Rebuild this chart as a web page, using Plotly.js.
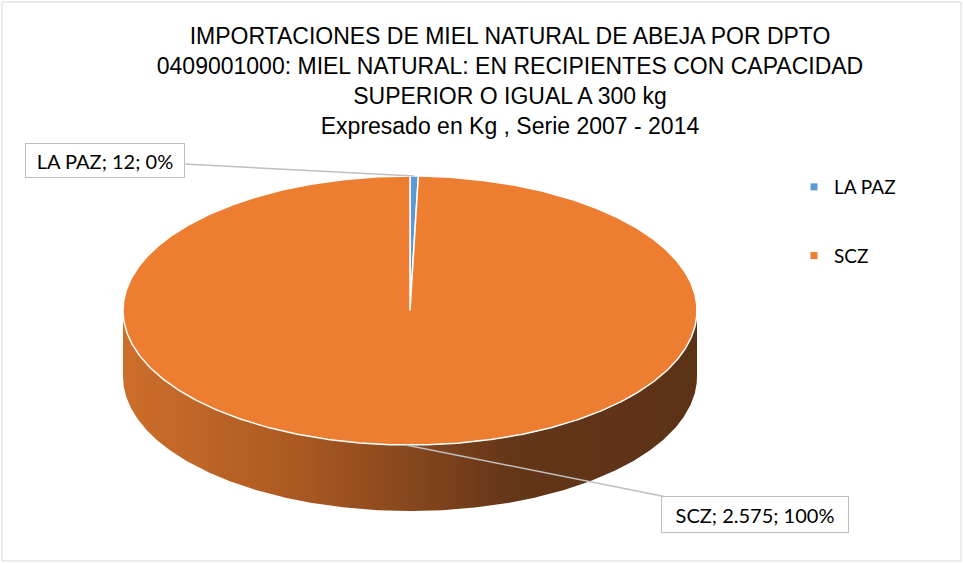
<!DOCTYPE html>
<html><head><meta charset="utf-8">
<script src="https://cdn.plot.ly/plotly-3.0.1.min.js"></script>
<style>html,body{margin:0;padding:0;background:#fff;}#chart{width:963px;height:563px;}</style>
</head><body><div id="chart"></div>
<script>
// ---- data ----
const labels = ['LA PAZ', 'SCZ'];
const values = [12, 2575];
const sliceColors = ['#5B9BD5', '#ED7D31'];

// ---- geometry / style (not data) ----
const cx = 410, cy = 310.5, rx = 287, ry = 134.5, depth = 66;
const labelPos = [[104.5, 160], [754.5, 514.5]];
const labelSize = [[152, 27], [180, 29]];
const sideScale = [[0, '#cd6e2b'], [0.3, '#ab5922'], [0.5, '#87471d'], [0.68, '#633618'], [1, '#5c3217']];
const labelFont = 'Lato, Carlito, Calibri, "Open Sans", sans-serif';

function pt(deg, dy) {
  const t = deg * Math.PI / 180;
  return [cx + rx * Math.sin(t), cy - ry * Math.cos(t) + (dy || 0)];
}
function arc(a0, a1, dy) {
  const out = [];
  const n = Math.max(2, Math.ceil(Math.abs(a1 - a0) / 0.5));
  for (let i = 0; i <= n; i++) out.push(pt(a0 + (a1 - a0) * i / n, dy));
  return out;
}
function fmt(v) { return String(v).replace(/\B(?=(\d{3})+(?!\d))/g, '.'); }

const total = values.reduce((a, b) => a + b, 0);
const starts = [], ends = [];
let acc = 0;
values.forEach(v => { starts.push(acc / total * 360); acc += v; ends.push(acc / total * 360); });

const traces = [];
// side walls (front half visible: 90..270 deg clockwise from top)
values.forEach((v, i) => {
  const s = Math.max(starts[i], 90), e = Math.min(ends[i], 270);
  if (s >= e) return;
  const pts = arc(s, e, 0).concat(arc(e, s, depth));
  pts.push(pts[0]);
  traces.push({
    type: 'scatter', mode: 'lines', x: pts.map(p => p[0]), y: pts.map(p => p[1]),
    fill: 'toself', fillgradient: { type: 'horizontal', colorscale: sideScale },
    line: { width: 0, color: 'rgba(0,0,0,0)' }, hoverinfo: 'skip', showlegend: false
  });
});
// top faces
values.forEach((v, i) => {
  const pts = [[cx, cy]].concat(arc(starts[i], ends[i], 0));
  pts.push([cx, cy]);
  traces.push({
    type: 'scatter', mode: 'lines', x: pts.map(p => p[0]), y: pts.map(p => p[1]),
    fill: 'toself', fillcolor: sliceColors[i],
    line: { width: 1.5, color: '#ffffff' }, hoverinfo: 'skip', showlegend: false
  });
});
// legend entries
labels.forEach((l, i) => {
  traces.push({
    type: 'scatter', mode: 'markers', x: [null], y: [null], name: l,
    legendgroup: 'g' + i, marker: { symbol: 'square', size: 7, color: sliceColors[i] }
  });
});

// data labels with leader lines
const annotations = values.map((v, i) => {
  const mid = (starts[i] + ends[i]) / 2;
  const p = pt(mid, 0);
  return {
    x: p[0], y: p[1], xref: 'x', yref: 'y',
    ax: labelPos[i][0], ay: labelPos[i][1], axref: 'x', ayref: 'y',
    text: labels[i] + '; ' + fmt(v) + '; ' + Math.round(v / total * 100) + '%',
    showarrow: true, arrowhead: 0, arrowwidth: 1.5, arrowcolor: '#bfbfbf', standoff: 0,
    bgcolor: '#ffffff', bordercolor: '#bfbfbf', borderwidth: 1, borderpad: 3,
    width: labelSize[i][0], height: labelSize[i][1],
    font: { family: labelFont, size: 20, color: '#000000' }
  };
});

const layout = {
  width: 963, height: 563,
  margin: { l: 0, r: 0, t: 0, b: 0 },
  paper_bgcolor: '#ffffff', plot_bgcolor: '#ffffff',
  xaxis: { range: [0, 963], visible: false, fixedrange: true },
  yaxis: { range: [563, 0], visible: false, fixedrange: true },
  title: {
    text: 'IMPORTACIONES DE MIEL NATURAL DE ABEJA POR DPTO<br>0409001000: MIEL NATURAL: EN RECIPIENTES CON CAPACIDAD<br>SUPERIOR O IGUAL A 300 kg<br>Expresado en Kg , Serie 2007 - 2014',
    x: 510 / 963, xanchor: 'center', xref: 'container',
    y: 1 - 44 / 563, yanchor: 'top', yref: 'container',
    font: { family: '"Liberation Sans", Arial, sans-serif', size: 23, color: '#000000' }
  },
  showlegend: true,
  legend: {
    x: 794 / 963, y: 1 - 168 / 563, xanchor: 'left', yanchor: 'top',
    bgcolor: 'rgba(0,0,0,0)', traceorder: 'grouped', tracegroupgap: 41,
    font: { family: labelFont, size: 19, color: '#000000' }
  },
  shapes: [{ type: 'rect', xref: 'x', yref: 'y', x0: 2, x1: 961, y0: 2, y1: 561, line: { color: '#d9d9d9', width: 1 }, layer: 'below' }],
  annotations: annotations
};

Plotly.newPlot('chart', traces, layout, { displayModeBar: false, staticPlot: true });
</script></body></html>
